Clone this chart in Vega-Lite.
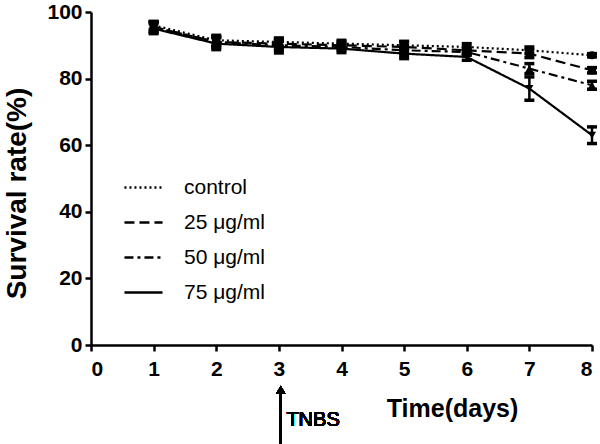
{
  "$schema": "https://vega.github.io/schema/vega-lite/v6.json",
  "width": 501,
  "height": 333,
  "autosize": {"type": "none"},
  "padding": {"left": 91, "top": 12, "right": 8, "bottom": 99},
  "background": "white",
  "config": {
    "font": "Liberation Sans",
    "view": {"stroke": null},
    "axis": {
      "domainColor": "black",
      "domainWidth": 2.5,
      "tickColor": "black",
      "tickWidth": 2.5,
      "tickSize": 6,
      "grid": false,
      "labelColor": "black",
      "labelFont": "Liberation Sans",
      "labelFontWeight": "bold",
      "labelFontSize": 21,
      "titleColor": "black",
      "titleFont": "Liberation Sans",
      "titleFontWeight": "bold"
    }
  },
  "resolve": {"legend": {"shape": "independent", "strokeDash": "independent"}},
  "data": {
    "values": [
      {"group": "control", "day": 1, "mean": 96, "err": 1.2},
      {"group": "control", "day": 2, "mean": 91.5, "err": 1.5},
      {"group": "control", "day": 3, "mean": 91, "err": 1.2},
      {"group": "control", "day": 4, "mean": 90.5, "err": 1},
      {"group": "control", "day": 5, "mean": 90, "err": 1.2},
      {"group": "control", "day": 6, "mean": 89.5, "err": 1},
      {"group": "control", "day": 7, "mean": 88.5, "err": 1},
      {"group": "control", "day": 8, "mean": 87, "err": 0.5},
      {"group": "25 μg/ml", "day": 1, "mean": 95.5, "err": 1.5},
      {"group": "25 μg/ml", "day": 2, "mean": 91, "err": 1.5},
      {"group": "25 μg/ml", "day": 3, "mean": 90.5, "err": 1.5},
      {"group": "25 μg/ml", "day": 4, "mean": 90, "err": 1},
      {"group": "25 μg/ml", "day": 5, "mean": 89.5, "err": 1.5},
      {"group": "25 μg/ml", "day": 6, "mean": 88.5, "err": 1},
      {"group": "25 μg/ml", "day": 7, "mean": 87.5, "err": 1.2},
      {"group": "25 μg/ml", "day": 8, "mean": 82.5, "err": 0.8},
      {"group": "50 μg/ml", "day": 1, "mean": 95.5, "err": 1.5},
      {"group": "50 μg/ml", "day": 2, "mean": 91, "err": 1.5},
      {"group": "50 μg/ml", "day": 3, "mean": 90, "err": 1.5},
      {"group": "50 μg/ml", "day": 4, "mean": 89.5, "err": 1},
      {"group": "50 μg/ml", "day": 5, "mean": 88.5, "err": 1.5},
      {"group": "50 μg/ml", "day": 6, "mean": 88, "err": 1},
      {"group": "50 μg/ml", "day": 7, "mean": 83, "err": 1.5},
      {"group": "50 μg/ml", "day": 8, "mean": 78, "err": 1.2},
      {"group": "75 μg/ml", "day": 1, "mean": 95, "err": 1.5},
      {"group": "75 μg/ml", "day": 2, "mean": 90.5, "err": 1.8},
      {"group": "75 μg/ml", "day": 3, "mean": 89.5, "err": 1.8},
      {"group": "75 μg/ml", "day": 4, "mean": 89, "err": 1.2},
      {"group": "75 μg/ml", "day": 5, "mean": 87.5, "err": 1.5},
      {"group": "75 μg/ml", "day": 6, "mean": 86.5, "err": 1},
      {"group": "75 μg/ml", "day": 7, "mean": 77, "err": 3.5},
      {"group": "75 μg/ml", "day": 8, "mean": 63, "err": 2.5}
    ]
  },
  "encoding": {
    "x": {
      "field": "day",
      "type": "quantitative",
      "scale": {"domain": [0, 8], "nice": false, "zero": false},
      "axis": {
        "values": [0, 1, 2, 3, 4, 5, 6, 7, 8],
        "labelPadding": 7,
        "title": "Time(days)",
        "titleFontSize": 25,
        "titleX": 361,
        "titleY": 63,
        "titleBaseline": "middle",
        "titleAlign": "center"
      }
    },
    "y": {
      "field": "mean",
      "type": "quantitative",
      "scale": {"domain": [0, 100], "nice": false},
      "axis": {
        "values": [0, 20, 40, 60, 80, 100],
        "labelPadding": 3,
        "title": "Survival rate(%)",
        "titleFontSize": 28,
        "titleX": -74,
        "titleY": 181,
        "titleAlign": "center",
        "titleBaseline": "middle"
      }
    }
  },
  "layer": [
    {
      "mark": {"type": "line", "color": "black", "strokeWidth": 2.2},
      "encoding": {
        "strokeDash": {
          "field": "group",
          "type": "nominal",
          "sort": ["control", "25 μg/ml", "50 μg/ml", "75 μg/ml"],
          "scale": {
            "domain": ["control", "25 μg/ml", "50 μg/ml", "75 μg/ml"],
            "range": [[2, 3], [10, 5], [9, 4, 3, 4], [1, 0]]
          },
          "legend": {
            "title": null,
            "orient": "none",
            "legendX": 32,
            "legendY": 155,
            "symbolType": "stroke",
            "symbolSize": 1450,
            "symbolStrokeColor": "black",
            "symbolStrokeWidth": 2.5,
            "labelFontSize": 21,
            "labelColor": "black",
            "labelFont": "Liberation Sans",
            "labelOffset": 20,
            "rowPadding": 4
          }
        }
      }
    },
    {
      "mark": {"type": "errorbar", "ticks": {"size": 10, "thickness": 3.5, "color": "black", "opacity": 1}, "rule": {"strokeWidth": 2.5, "color": "black", "opacity": 1}},
      "encoding": {
        "y": {"field": "mean", "type": "quantitative", "title": "Survival rate(%)"},
        "yError": {"field": "err"},
        "detail": {"field": "group"}
      }
    },
    {
      "mark": {"type": "point", "filled": true, "color": "black", "opacity": 1, "size": 65},
      "encoding": {
        "shape": {
          "field": "group",
          "type": "nominal",
          "scale": {
            "domain": ["control", "25 μg/ml", "50 μg/ml", "75 μg/ml"],
            "range": ["circle", "square", "triangle-up", "triangle-down"]
          },
          "legend": null
        }
      }
    },
    {
      "mark": {"type": "rule", "color": "black", "strokeWidth": 2},
      "encoding": {
        "x": {"datum": 3.03},
        "y": {"datum": -14},
        "y2": {"datum": -40}
      }
    },
    {
      "mark": {"type": "point", "shape": "triangle-up", "filled": true, "color": "black", "opacity": 1, "size": 90},
      "encoding": {
        "x": {"datum": 3.03},
        "y": {"datum": -13.5}
      }
    },
    {
      "mark": {"type": "text", "text": "TNBS", "align": "left", "baseline": "middle", "fontSize": 20, "fontWeight": 400, "font": "Liberation Sans", "color": "black"},
      "encoding": {
        "x": {"datum": 3.12},
        "y": {"datum": -22.5}
      }
    }
  ]
}
